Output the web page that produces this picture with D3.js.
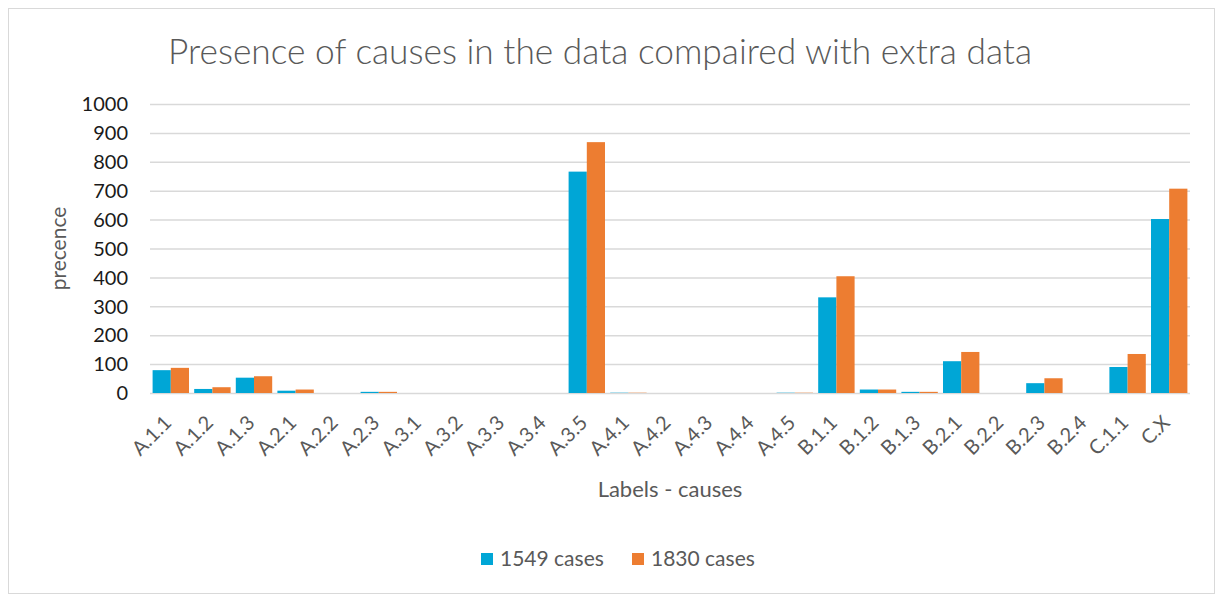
<html>
<head>
<script src="https://cdn.jsdelivr.net/npm/d3@7"></script>
<style>
body { margin: 0; background: #fff; }
text { font-family: Lato, "Open Sans", sans-serif; }
.grid line { stroke: #d9d9d9; stroke-width: 1.5; }
.grid path { display: none; }
</style>
</head>
<body>
<svg></svg>
<script>

var width = 1215;
var height = 594;

// chart data
var categories = ["A.1.1","A.1.2","A.1.3","A.2.1","A.2.2","A.2.3","A.3.1","A.3.2","A.3.3","A.3.4","A.3.5",
	"A.4.1","A.4.2","A.4.3","A.4.4","A.4.5","B.1.1","B.1.2","B.1.3","B.2.1","B.2.2","B.2.3","B.2.4","C.1.1","C.X"];
var seriesNames = ["1549 cases", "1830 cases"];
var cases1549 = [79, 14, 53, 8, 0, 4, 0, 0, 0, 0, 766, 1, 0, 0, 0, 1, 331, 12, 4, 110, 0, 34, 0, 90, 602];
var cases1830 = [87, 20, 58, 12, 0, 4, 0, 0, 0, 0, 868, 1, 0, 0, 0, 1, 404, 12, 4, 142, 0, 51, 0, 135, 707];
var yTicks = [0, 100, 200, 300, 400, 500, 600, 700, 800, 900, 1000];
var colors = ["#00a6d6", "#ed7d31"];

var rows = categories.map(function(c, i) {
	return {cat: c, values: [cases1549[i], cases1830[i]]};
});

var plotLeft = 150, plotRight = 1190, plotTop = 104, plotBottom = 393;

var svg = d3.select('svg').attr("width", width).attr("height", height);

// outer chart border
svg.append("rect")
	.attr("x", 8.5).attr("y", 8.5)
	.attr("width", width - 9).attr("height", height - 9)
	.attr("fill", "none").attr("stroke", "#d9d9d9");

var x = d3.scaleBand().domain(categories).range([plotLeft, plotRight]).paddingInner(0.125).paddingOuter(0.0625);
var xs = d3.scaleBand().domain([0, 1]).range([0, x.bandwidth()]);
var y = d3.scaleLinear().domain([0, 1000]).range([plotBottom, plotTop]);

// gridlines
svg.append("g")
	.attr("class", "grid")
	.attr("transform", "translate(" + plotLeft + ",0)")
	.call(d3.axisLeft(y).tickValues(yTicks).tickSize(-(plotRight - plotLeft)).tickFormat(""));

// y tick labels
svg.append("g").selectAll("text").data(yTicks).enter().append("text")
	.attr("x", 128)
	.attr("y", function(d) { return y(d); })
	.attr("dy", "0.36em")
	.attr("text-anchor", "end")
	.attr("font-size", 20)
	.attr("fill", "#1a1a1a")
	.text(function(d) { return d; });

// bars
var groups = svg.append("g").selectAll("g").data(rows).enter().append("g")
	.attr("transform", function(d) { return "translate(" + x(d.cat) + ",0)"; });

groups.selectAll("rect").data(function(d) { return d.values; }).enter().append("rect")
	.attr("x", function(d, i) { return xs(i); })
	.attr("y", function(d) { return y(d); })
	.attr("width", xs.bandwidth())
	.attr("height", function(d) { return plotBottom - y(d); })
	.attr("fill", function(d, i) { return colors[i]; });

// x labels
svg.append("g").selectAll("text").data(categories).enter().append("text")
	.attr("transform", function(d) {
		return "translate(" + (x(d) + x.bandwidth() / 2 + 2) + "," + 424 + ") rotate(-45)";
	})
	.attr("text-anchor", "end")
	.attr("font-size", 20)
	.attr("fill", "#595959")
	.text(function(d) { return d; });

// title
svg.append("text")
	.attr("x", 600).attr("y", 64)
	.attr("text-anchor", "middle")
	.attr("font-size", 35.3)
	.attr("font-weight", 300)
	.attr("fill", "#595959")
	.text("Presence of causes in the data compaired with extra data");

// axis titles
svg.append("text")
	.attr("x", (plotLeft + plotRight) / 2).attr("y", 497)
	.attr("text-anchor", "middle")
	.attr("font-size", 22)
	.attr("fill", "#595959")
	.text("Labels - causes");

svg.append("text")
	.attr("transform", "translate(66," + ((plotTop + plotBottom) / 2) + ") rotate(-90)")
	.attr("text-anchor", "middle")
	.attr("font-size", 21)
	.attr("fill", "#595959")
	.text("precence");

// legend
var legendX = [481, 632];
var legend = svg.append("g").selectAll("g").data(seriesNames).enter().append("g")
	.attr("transform", function(d, i) { return "translate(" + legendX[i] + ",553)"; });

legend.append("rect")
	.attr("width", 12).attr("height", 12)
	.attr("fill", function(d, i) { return colors[i]; });

legend.append("text")
	.attr("x", 19).attr("y", 12.5)
	.attr("font-size", 21)
	.attr("fill", "#595959")
	.text(function(d) { return d; });

</script>
</body>
</html>
